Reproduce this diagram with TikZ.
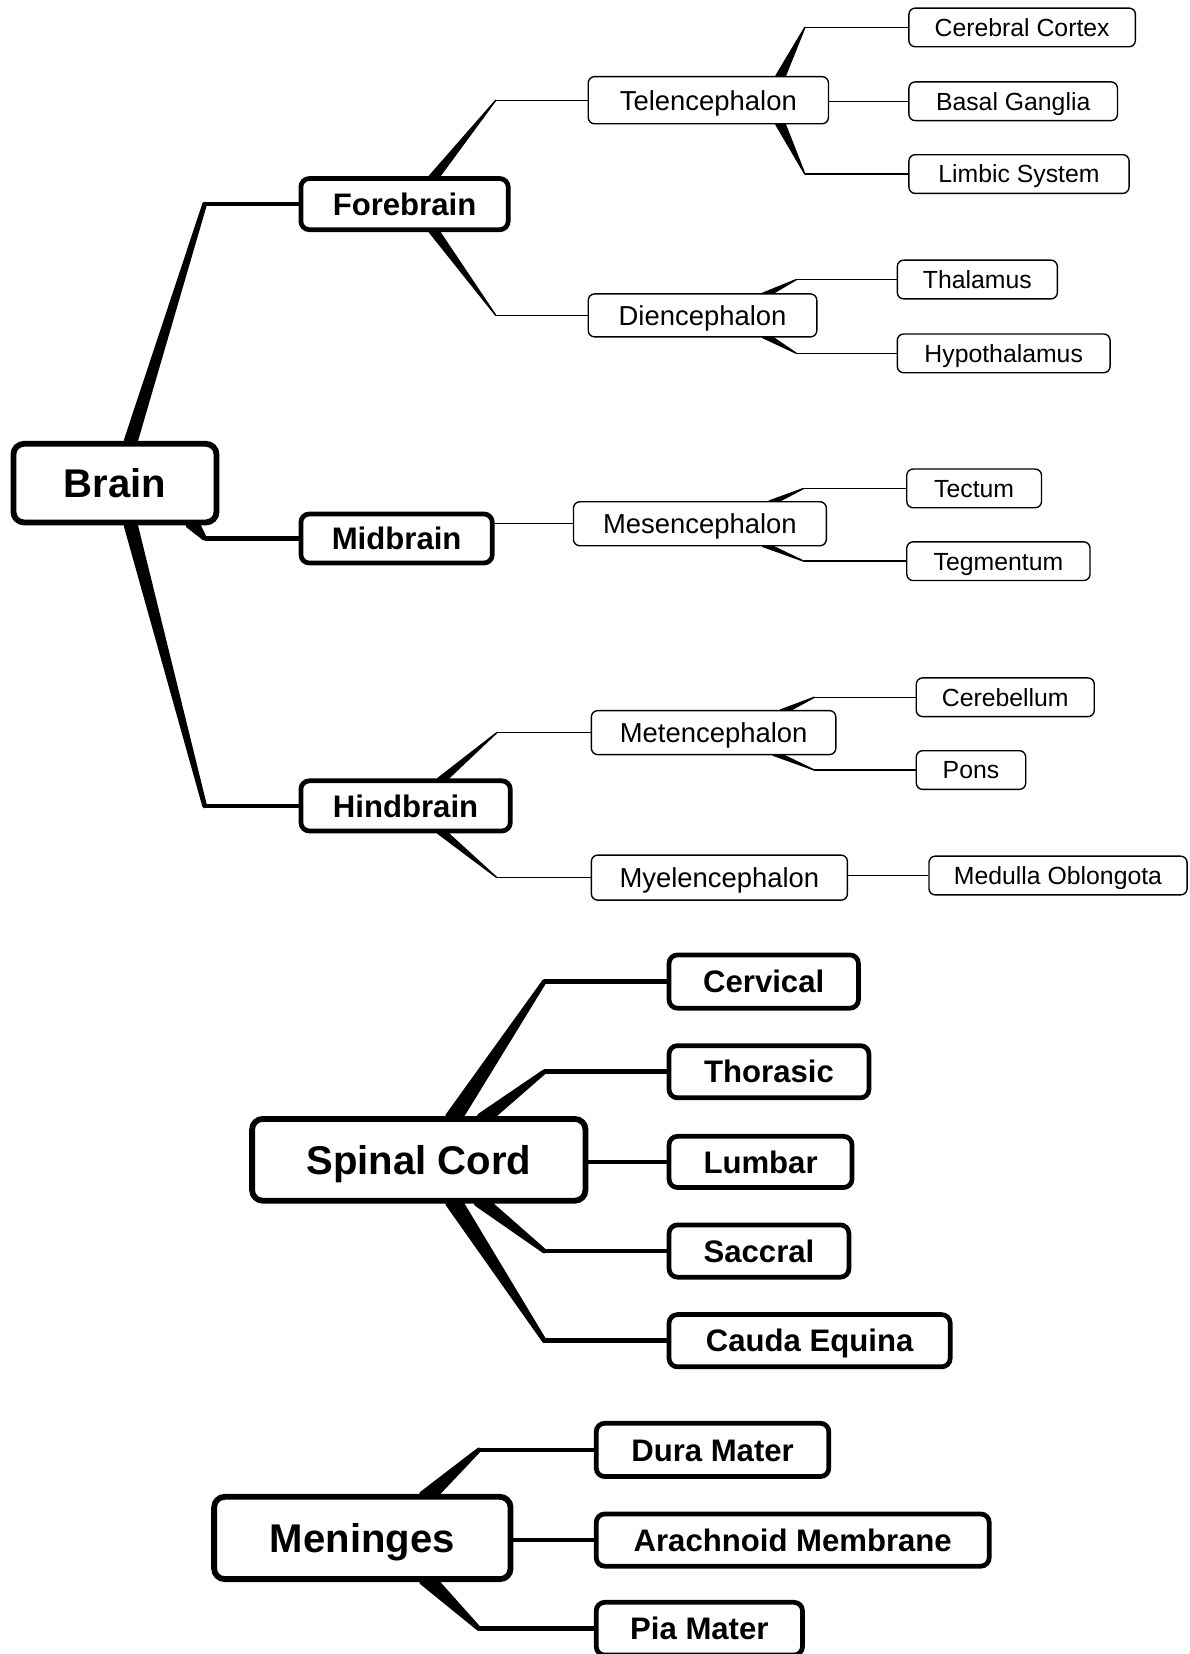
\documentclass[tikz,border=0pt]{standalone}
\usepackage{fontspec}
\setmainfont{Liberation Sans}
\usetikzlibrary{calc,backgrounds}

% Tapered connector: a wedge from the parent's edge to an elbow, then a straight run to the child.
% #1 parent anchor, #2 x offset of the wedge base, #3 half width of the base,
% #4 coordinate giving the elbow x, #5 child node, #6 line width
\newcommand\taperto[6]{%
  \filldraw[line width=#6, line join=round]
    ($(#1)+(#2-#3,0)$) -- ($(#1)+(#2+#3,0)$) -- (#5.west -| #4) -- cycle;
  \draw[line width=#6] (#5.west -| #4) -- (#5.west);
}

\tikzset{
  root/.style={draw, line width=5.5pt, rounded corners=10pt, fill=white, inner sep=0pt,
    font=\fontsize{38}{40}\selectfont\bfseries, text height=27.2pt, text depth=0pt},
  branch/.style={draw, line width=4.5pt, rounded corners=8pt, fill=white, inner sep=0pt,
    font=\fontsize{29.5}{31}\selectfont\bfseries, text height=21.1pt, text depth=0pt},
  part/.style={draw, line width=1.3pt, rounded corners=6pt, fill=white, inner sep=0pt,
    font=\fontsize{26}{28}\selectfont, text height=18.6pt, text depth=0pt},
  leaf/.style={draw, line width=1.3pt, rounded corners=6pt, fill=white, inner sep=0pt,
    font=\fontsize{23.5}{25}\selectfont, text height=16.8pt, text depth=0pt},
  heavy/.style={line width=4.5pt},
  light/.style={line width=1.3pt},
}

\begin{document}
\begin{tikzpicture}[x=1pt, y={(0pt,-1pt)}]
\useasboundingbox (0,0) rectangle (1128,1568);
\clip (0,0) rectangle (1128,1568);

% ---------- Brain ----------
\node[root, minimum width=192.5pt, minimum height=74.5pt] (brain) at (109,458) {Brain};

\node[branch, minimum width=196.5pt, minimum height=48.5pt] (fore) at (383.5,193.5) {Forebrain};
\node[branch, minimum width=181.5pt, minimum height=46.5pt] (mid)  at (376,510.5) {Midbrain};
\node[branch, minimum width=198.5pt, minimum height=47.5pt] (hind) at (384.5,764) {Hindbrain};

\node[part, minimum width=227.7pt, minimum height=44.7pt] (tel)   at (671.5,95)  {Telencephalon};
\node[part, minimum width=216.7pt, minimum height=40.7pt] (dien)  at (666,299)   {Diencephalon};
\node[part, minimum width=239.7pt, minimum height=41.7pt] (mesen) at (663.5,496.5) {Mesencephalon};
\node[part, minimum width=231.7pt, minimum height=41.7pt] (meten) at (676.5,694.5) {Metencephalon};
\node[part, minimum width=242.7pt, minimum height=42.7pt] (myel)  at (682,832)   {Myelencephalon};

\node[leaf, minimum width=214.7pt, minimum height=36.7pt] (cortex)  at (969,26)    {Cerebral Cortex};
\node[leaf, minimum width=197.7pt, minimum height=36.7pt] (basal)   at (960.5,96)  {Basal Ganglia};
\node[leaf, minimum width=208.7pt, minimum height=36.7pt] (limbic)  at (966,165)   {Limbic System};
\node[leaf, minimum width=151.7pt, minimum height=36.7pt] (thal)    at (926.5,265) {Thalamus};
\node[leaf, minimum width=201.7pt, minimum height=36.7pt] (hypo)    at (951.5,335) {Hypothalamus};
\node[leaf, minimum width=127.7pt, minimum height=36.7pt] (tectum)  at (923.5,463) {Tectum};
\node[leaf, minimum width=173.7pt, minimum height=36.7pt] (tegm)    at (946.5,532) {Tegmentum};
\node[leaf, minimum width=168.7pt, minimum height=36.7pt] (cereb)   at (953,661)   {Cerebellum};
\node[leaf, minimum width=103.7pt, minimum height=36.7pt] (pons)    at (920.5,730) {Pons};
\node[leaf, minimum width=244.7pt, minimum height=36.7pt] (medulla) at (1003,830)  {Medulla Oblongota};

% ---------- Spinal Cord ----------
\node[root, minimum width=316pt, minimum height=77.5pt] (spinal) at (397,1099.5) {Spinal Cord};

\node[branch, minimum width=179.5pt, minimum height=50.5pt] (cerv)  at (724,930.5)  {Cervical};
\node[branch, minimum width=189.5pt, minimum height=49.5pt] (thor)  at (729,1016)   {Thorasic};
\node[branch, minimum width=173.5pt, minimum height=48.5pt] (lumb)  at (721,1101.5) {Lumbar};
\node[branch, minimum width=170.5pt, minimum height=49.5pt] (sacc)  at (719.5,1186) {Saccral};
\node[branch, minimum width=266.5pt, minimum height=49.5pt] (cauda) at (767.5,1271) {Cauda Equina};

% ---------- Meninges ----------
\node[root, minimum width=281pt, minimum height=78pt] (meninges) at (343.5,1458) {Meninges};

\node[branch, minimum width=220.5pt, minimum height=50.5pt] (dura)  at (675.5,1374.5) {Dura Mater};
\node[branch, minimum width=372.5pt, minimum height=49.5pt] (arach) at (751.5,1460)   {Arachnoid Membrane};
\node[branch, minimum width=195.5pt, minimum height=50pt]   (pia)   at (663,1544)     {Pia Mater};

% elbow columns
\coordinate (brainX)  at (194,0);
\coordinate (foreX)   at (470,0);
\coordinate (telX)    at (763,0);
\coordinate (dienX)   at (755,0);
\coordinate (mesenX)  at (762,0);
\coordinate (hindX)   at (471,0);
\coordinate (metenX)  at (772,0);
\coordinate (spinalX) at (516,0);
\coordinate (menX)    at (454,0);

\begin{pgfonlayer}{background}
  \fill[white] (0,0) rectangle (1128,1568);

  % Brain
  \taperto{brain.north}{15}{4.5}{brainX}{fore}{4.5pt}
  \taperto{brain.south}{74}{5}{brainX}{mid}{4.5pt}
  \taperto{brain.south}{15}{4.5}{brainX}{hind}{4.5pt}

  % Forebrain
  \taperto{fore.north}{28.5}{5}{foreX}{tel}{1.3pt}
  \taperto{fore.south}{28.5}{5}{foreX}{dien}{1.3pt}
  \taperto{tel.north}{68.5}{4.5}{telX}{cortex}{1.3pt}
  \draw[light] (tel.east |- basal.west) -- (basal.west);
  \taperto{tel.south}{68.5}{4.5}{telX}{limbic}{1.3pt}
  \taperto{dien.north}{62}{5}{dienX}{thal}{1.3pt}
  \taperto{dien.south}{62}{5}{dienX}{hypo}{1.3pt}

  % Midbrain
  \draw[light] (mid.east |- mesen.west) -- (mesen.west);
  \taperto{mesen.north}{70.5}{5}{mesenX}{tectum}{1.3pt}
  \taperto{mesen.south}{64.5}{5}{mesenX}{tegm}{1.3pt}

  % Hindbrain
  \taperto{hind.north}{35.5}{5}{hindX}{meten}{1.3pt}
  \taperto{hind.south}{35.5}{5}{hindX}{myel}{1.3pt}
  \taperto{meten.north}{68.5}{5}{metenX}{cereb}{1.3pt}
  \taperto{meten.south}{61.5}{5}{metenX}{pons}{1.3pt}
  \draw[light] (myel.east |- medulla.west) -- (medulla.west);

  % Spinal Cord
  \taperto{spinal.north}{34}{6.75}{spinalX}{cerv}{4.5pt}
  \taperto{spinal.north}{64}{6.75}{spinalX}{thor}{4.5pt}
  \draw[heavy] (spinal.east |- lumb.west) -- (lumb.west);
  \taperto{spinal.south}{61}{6.75}{spinalX}{sacc}{4.5pt}
  \taperto{spinal.south}{34}{6.75}{spinalX}{cauda}{4.5pt}

  % Meninges
  \taperto{meninges.north}{63.5}{7.5}{menX}{dura}{4.5pt}
  \draw[heavy] (meninges.east |- arach.west) -- (arach.west);
  \taperto{meninges.south}{63.5}{7.5}{menX}{pia}{4.5pt}
\end{pgfonlayer}
\end{tikzpicture}
\end{document}
